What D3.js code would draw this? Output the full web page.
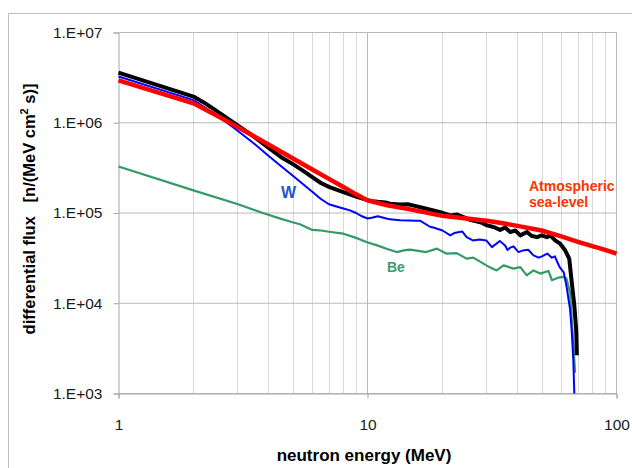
<!DOCTYPE html>
<html>
<head>
<meta charset="utf-8">
<script src="https://cdn.jsdelivr.net/npm/d3@7"></script>
<style>
  html, body { margin: 0; padding: 0; background: #fff; }
  svg { display: block; font-family: "Liberation Sans", Arial, sans-serif; }
</style>
</head>
<body>
<svg id="chart" width="632" height="468"></svg>
<script>
// Neutron energy axis ticks and flux axis ticks
const xTickValues = [1, 10, 100];
const xTickLabels = ["1", "10", "100"];
const yTickValues = [1e3, 1e4, 1e5, 1e6, 1e7];
const yTickLabels = ["1.E+03", "1.E+04", "1.E+05", "1.E+06", "1.E+07"];

// Atmospheric sea-level neutron spectrum (MeV, n/(MeV cm2 s))
const atmE = [1, 2, 2.5, 3, 4, 5, 6, 7, 8, 9, 10, 12, 15, 20, 25, 30, 34, 40, 50, 60, 70, 80, 90, 100];
const atmF = [2.95e6, 1.64e6, 1.19e6, 9.0e5, 5.75e5, 4.05e5, 3.04e5, 2.39e5, 1.94e5, 1.61e5, 1.38e5, 1.22e5, 1.09e5,
              9.3e4, 8.7e4, 8.2e4, 7.8e4, 7.2e4, 6.4e4, 5.5e4, 4.8e4, 4.3e4, 3.9e4, 3.55e4];

// Beam spectrum (black)
const beamE = [1, 2, 2.2, 2.5, 3, 3.5, 4, 4.5, 5, 5.5, 6, 6.5, 7, 7.5, 8, 9, 10, 10.5, 11, 11.8, 12.3, 13.5, 14.5, 15.5,
               16.3, 17.9, 19.6, 21.5, 22.9, 24.3, 25.8, 28.4, 30.2, 32.1, 34.1, 35.7, 37.4, 39.2, 41.1, 43.7, 45.5,
               47.9, 50.1, 52.5, 54.2, 56.7, 59.4, 62.2, 64.6, 66.2, 67.6, 68.9, 69.3];
const beamF = [3.6e6, 1.95e6, 1.68e6, 1.33e6, 9.4e5, 7.0e5, 5.3e5, 4.15e5, 3.5e5, 2.95e5, 2.5e5, 2.15e5, 1.95e5, 1.82e5,
               1.7e5, 1.52e5, 1.39e5, 1.35e5, 1.33e5, 1.31e5, 1.27e5, 1.24e5, 1.25e5, 1.2e5,
               1.16e5, 1.09e5, 1.02e5, 9.4e4, 9.6e4, 9.0e4, 8.4e4, 7.9e4, 7.3e4, 7.0e4, 6.5e4, 6.9e4, 6.15e4, 6.4e4,
               5.65e4, 6.15e4, 5.6e4, 5.4e4, 5.65e4, 5.4e4, 5.65e4, 4.97e4, 4.57e4, 3.86e4, 3.12e4, 1.65e4, 9.9e3,
               5.0e3, 2.65e3];

// Tungsten target spectrum (W)
const wE = [1, 2, 2.5, 3, 3.5, 4, 4.5, 5, 5.5, 6, 6.5, 7, 7.5, 8, 8.5, 9, 9.5, 10, 10.5, 11, 11.9, 12.3, 13.5, 15.8,
            16.3, 17.9, 18.4, 20, 21.5, 22.3, 24, 25, 26.5, 28.2, 30, 31.6, 34, 35.7, 36.5, 37.4, 38.6, 40.4, 42.1,
            44.2, 46.4, 48.7, 50.2, 52.7, 55, 56.6, 57.7, 59.2, 61.4, 63.1, 65.1, 66.2, 67.1, 67.7];
const wF = [3.25e6, 1.78e6, 1.2e6, 8.2e5, 5.9e5, 4.3e5, 3.3e5, 2.6e5, 2.1e5, 1.72e5, 1.43e5, 1.25e5, 1.18e5, 1.12e5,
            1.07e5, 1.0e5, 9.2e4, 8.7e4, 8.9e4, 9.2e4, 8.7e4, 8.5e4, 8.3e4, 8.2e4,
            8.2e4, 7.0e4, 6.9e4, 6.4e4, 5.65e4, 6.0e4, 6.25e4, 5.4e4, 4.97e4, 5.1e4, 4.97e4, 4.19e4, 4.9e4, 4.37e4,
            3.9e4, 4.13e4, 4.27e4, 3.69e4, 3.85e4, 3.92e4, 3.39e4, 3.2e4, 3.31e4, 3.55e4, 3.2e4, 3.31e4, 2.9e4,
            2.5e4, 2.2e4, 1.5e4, 8.5e3, 4.6e3, 2.3e3, 1.0e3];

// Beryllium target spectrum (Be)
const beE = [1, 2, 3, 3.8, 4.5, 5, 5.35, 6, 6.5, 7, 8, 9, 9.9, 11, 12, 13.1, 14, 14.8, 16, 17.2, 19, 20.8, 22.8, 25,
             26.6, 29.2, 31, 33, 35.2, 38.6, 41.1, 43.6, 46.4, 49.4, 53.3, 55, 58.3, 61.4, 63, 65.1, 65.8, 66.8, 68.2];
const beF = [3.28e5, 1.78e5, 1.26e5, 1.0e5, 8.6e4, 7.9e4, 7.5e4, 6.5e4, 6.4e4, 6.2e4, 5.9e4, 5.3e4, 4.77e4, 4.35e4,
             4.0e4, 3.69e4, 3.85e4, 3.92e4, 3.8e4, 3.69e4, 4.03e4, 3.54e4, 3.59e4, 3.12e4,
             3.2e4, 2.75e4, 2.5e4, 2.31e4, 2.63e4, 2.42e4, 2.51e4, 2.04e4, 2.31e4, 2.13e4, 2.28e4, 1.8e4, 1.92e4,
             1.96e4, 1.87e4, 1.3e4, 8.4e3, 4.2e3, 1.7e3];

const svg = d3.select("#chart");

// Outer chart frame
svg.append("rect")
  .attr("x", 8.5).attr("y", 13.5).attr("width", 640).attr("height", 470)
  .attr("fill", "none").attr("stroke", "#bfbfbf").attr("stroke-width", 1);

const x = d3.scaleLog().domain([1, 100]).range([118.5, 616.5]);
const y = d3.scaleLog().domain([1e3, 1e7]).range([393.5, 32.5]);

const grid = svg.append("g");

// Minor vertical gridlines (2..9, 20..90)
const minor = [];
[1, 10].forEach(d => { for (let k = 2; k <= 9; k++) minor.push(d * k); });
grid.selectAll("line.minor").data(minor).join("line")
  .attr("class", "minor")
  .attr("x1", d => Math.round(x(d)) + 0.5).attr("x2", d => Math.round(x(d)) + 0.5)
  .attr("y1", y(1e7)).attr("y2", y(1e3))
  .attr("stroke", "#d9d9d9").attr("stroke-width", 1);

// Major vertical gridlines
grid.selectAll("line.vmajor").data([10, 100]).join("line")
  .attr("class", "vmajor")
  .attr("x1", d => x(d)).attr("x2", d => x(d))
  .attr("y1", y(1e7)).attr("y2", y(1e3))
  .attr("stroke", "#b9b9b9").attr("stroke-width", 1);

// Horizontal gridlines at each decade
grid.selectAll("line.hmajor").data(yTickValues).join("line")
  .attr("class", "hmajor")
  .attr("x1", x(1)).attr("x2", x(100))
  .attr("y1", d => y(d)).attr("y2", d => y(d))
  .attr("stroke", "#b9b9b9").attr("stroke-width", 1);

// Axes
const yAxis = d3.axisLeft(y).tickValues(yTickValues)
  .tickFormat((d, i) => yTickLabels[i]).tickSize(5).tickPadding(11);
const gy = svg.append("g").attr("transform", `translate(${x(1)},0)`).call(yAxis);
gy.select(".domain").attr("stroke", "#a6a6a6");
gy.selectAll(".tick line").attr("stroke", "#a6a6a6");
gy.selectAll(".tick text").attr("font-size", 15.5).attr("fill", "#1a1a1a")
  .attr("font-family", "'Liberation Sans', Arial, sans-serif");

const xAxis = d3.axisBottom(x).tickValues(xTickValues)
  .tickFormat((d, i) => xTickLabels[i]).tickSize(5).tickPadding(20);
const gx = svg.append("g").attr("transform", `translate(0,${y(1e3)})`).call(xAxis);
gx.select(".domain").attr("stroke", "#a6a6a6");
gx.selectAll(".tick line").attr("stroke", "#a6a6a6");
gx.selectAll(".tick text").attr("font-size", 15.5).attr("fill", "#1a1a1a")
  .attr("font-family", "'Liberation Sans', Arial, sans-serif");

// Spectra
const line = d3.line().x(d => x(d[0])).y(d => y(d[1]));
const series = [
  { e: beE, f: beF, color: "#339966", width: 2.2 },
  { e: beamE, f: beamF, color: "#000000", width: 4 },
  { e: wE, f: wF, color: "#0000ff", width: 2 },
  { e: atmE, f: atmF, color: "#ff0000", width: 4.5 }
];
svg.append("g").selectAll("path").data(series).join("path")
  .attr("d", s => line(s.e.map((e, i) => [e, s.f[i]])))
  .attr("fill", "none")
  .attr("stroke", s => s.color)
  .attr("stroke-width", s => s.width)
  .attr("stroke-linejoin", "round");

// Series labels
svg.append("text").attr("x", 281).attr("y", 198).text("W")
  .attr("font-size", 16).attr("font-weight", "bold").attr("fill", "#2255cc");
svg.append("text").attr("x", 387).attr("y", 272).text("Be")
  .attr("font-size", 14).attr("font-weight", "bold").attr("fill", "#3d9a6b");
const atm = svg.append("text").attr("font-size", 14).attr("font-weight", "bold").attr("fill", "#ff3300");
atm.append("tspan").attr("x", 529).attr("y", 191).text("Atmospheric");
atm.append("tspan").attr("x", 529).attr("y", 207).text("sea-level");

// Axis titles
svg.append("text")
  .attr("x", 364).attr("y", 461)
  .attr("text-anchor", "middle")
  .attr("font-size", 17).attr("font-weight", "bold").attr("fill", "#000")
  .text("neutron energy (MeV)");

const yTitle = svg.append("text")
  .attr("transform", "translate(35,209) rotate(-90)")
  .attr("text-anchor", "middle")
  .attr("font-size", 16.5).attr("font-weight", "bold").attr("fill", "#000");
yTitle.append("tspan").text("differential flux\u00a0\u00a0\u00a0[n/(MeV cm");
yTitle.append("tspan").attr("font-size", 11).attr("dy", -7).text("2");
yTitle.append("tspan").attr("dy", 7).text(" s)]");
</script>
</body>
</html>
